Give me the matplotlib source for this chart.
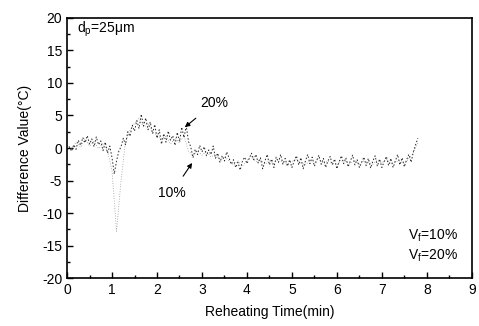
import numpy as np
import matplotlib.pyplot as plt

plt.rcParams['font.family'] = ['Liberation Sans', 'DejaVu Sans']
plt.rcParams['axes.unicode_minus'] = False

# sampled reheating time (min)
t20 = np.arange(157) * 0.05
t10 = np.arange(79) * 0.1

# Vf = 20 %, difference value (C)
d20 = [-0.3, 0.2, -0.5, 0.5, -0.2, 1.2, 0.4, 1.6, 0.8, 1.9,
       0.6, 1.4, 0.2, 1.7, 0.5, 1.1, -0.4, 0.9, -0.8, 0.3,
       -1.5, -4.0, -2.0, -0.5, 0.2, 1.5, 0.5, 2.5, 1.8, 3.5,
       2.6, 4.2, 3.0, 5.2, 3.4, 4.6, 2.8, 4.0, 2.2, 3.6,
       1.5, 2.8, 0.6, 2.2, 0.9, 2.6, 1.2, 1.9, 0.4, 2.4,
       1.0, 3.2, 1.6, 3.4, 1.0, 0.2, -1.5, -0.2, -1.0, 0.4,
       -0.6, 0.2, -1.2, -0.3, -1.0, 0.3, -1.6, -0.8, -2.2, -1.2,
       -2.0, -0.6, -1.5, -2.5, -1.8, -3.0, -2.2, -3.4, -2.0, -1.4,
       -2.4, -1.6, -0.8, -1.8, -1.0, -2.3, -1.5, -3.2, -2.0, -1.0,
       -2.6, -1.7, -3.0, -1.4, -2.2, -1.0, -2.5, -1.6, -2.8, -1.8,
       -3.0, -2.0, -1.2, -2.6, -1.5, -3.2, -2.0, -1.0, -2.4, -1.4,
       -2.8, -1.9, -1.1, -2.5, -1.6, -3.0, -2.0, -1.3, -2.6, -1.7,
       -3.2, -2.1, -1.2, -2.4, -1.5, -2.9, -2.0, -1.1, -2.6, -1.8,
       -3.0, -2.2, -1.4, -2.7, -1.6, -3.1, -2.0, -1.2, -2.8, -1.7,
       -3.0, -2.1, -1.3, -2.7, -1.6, -3.0, -2.0, -1.0, -2.6, -1.5,
       -2.9, -1.8, -1.0, -2.2, -0.6, 0.5, 1.5]

# Vf = 10 %, difference value (C)
d10 = [0.4, -0.2, 0.9, 0.1, 1.4, 0.3, 1.0, -0.1, 0.7, -0.5,
       -3.5, -12.8, -5.0, 1.0, 2.8, 3.8, 4.6, 3.2, 3.8, 2.5,
       2.0, 1.4, 1.8, 0.6, 1.5, 0.8, 1.9, -0.5, -1.2, -0.4,
       -1.1, -0.5, -1.4, -0.9, -1.8, -1.3, -2.0, -2.6, -2.0, -2.8,
       -1.9, -1.3, -2.1, -1.8, -2.5, -1.9, -2.4, -1.7, -2.2, -2.4,
       -2.1, -1.7, -2.3, -2.6, -1.9, -2.2, -1.6, -2.4, -2.0, -2.3,
       -2.6, -1.8, -2.1, -2.4, -1.9, -2.5, -2.0, -2.2, -2.5, -1.9,
       -2.3, -1.7, -2.4, -2.1, -2.0, -2.4, -1.6, -0.8, 0.8]

fig = plt.figure(figsize=(4.79, 3.26), dpi=100)
ax = fig.add_axes([0.140, 0.147, 0.845, 0.798])

ax.plot(t10, d10, color='0.6', lw=0.6, ls=(0, (1, 2)), label='V$_\\mathregular{f}$=10%')
ax.plot(t20, d20, color='0.15', lw=0.7, ls=(0, (1.5, 2)), label='V$_\\mathregular{f}$=20%')

ax.set_xlim(0, 9)
ax.set_ylim(-20, 20)
ax.set_xticks(range(0, 10))
ax.set_yticks(range(-20, 21, 5))
ax.set_xticks(np.arange(0.5, 9, 1), minor=True)
ax.set_yticks(np.arange(-17.5, 20, 5), minor=True)
ax.tick_params(direction='in', which='both', labelsize=10, width=1)
ax.tick_params(which='major', length=4)
ax.tick_params(which='minor', length=2)
for s in ax.spines.values():
    s.set_linewidth(1.2)

ax.set_xlabel('Reheating Time(min)', fontsize=10, labelpad=6)
ax.set_ylabel('Difference Value(°C)', fontsize=10, labelpad=7)

ax.text(0.22, 18.3, 'd$_\\mathregular{p}$=25μm', fontsize=10, va='center')
ax.annotate('20%', xy=(2.62, 3.2), xytext=(3.27, 6.9), fontsize=10,
            ha='center', va='center',
            arrowprops=dict(arrowstyle='-|>', color='black', lw=0.8,
                            shrinkA=6, shrinkB=0, mutation_scale=7))
ax.annotate('10%', xy=(2.78, -2.3), xytext=(2.33, -6.9), fontsize=10,
            ha='center', va='center',
            arrowprops=dict(arrowstyle='-|>', color='black', lw=0.8,
                            shrinkA=6, shrinkB=0, mutation_scale=7))

leg = ax.legend(loc='lower right', frameon=False, fontsize=10, handlelength=1.5,
                borderaxespad=0.6, labelspacing=0.3)
for h in leg.legend_handles:
    h.set_visible(False)

fig.savefig('out.png', dpi=100)
